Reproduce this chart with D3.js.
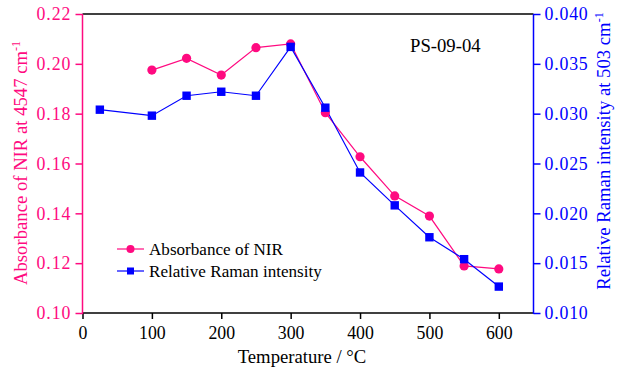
<!DOCTYPE html>
<html><head><meta charset="utf-8">
<script src="https://cdn.jsdelivr.net/npm/d3@7"></script>
<style>
body{margin:0;background:#fff;}
svg{display:block;}
svg text{font-family:"Liberation Serif","Times New Roman",serif !important;}
</style></head>
<body>
<svg id="c" width="627" height="374"></svg>
<script>
const nirTemps = [100,150,200,250,300,350,400,450,500,550,600];
const nirValues = [0.1975,0.2022,0.1955,0.2065,0.2080,0.1804,0.1627,0.1470,0.1389,0.1189,0.1177];
const ramanTemps = [25,100,150,200,250,300,350,400,450,500,550,600];
const ramanValues = [0.0304,0.0298,0.0318,0.0322,0.0318,0.0367,0.0306,0.0241,0.0208,0.0176,0.0154,0.01265];
const xTicks = [0,100,200,300,400,500,600];
const leftTicks = [0.10,0.12,0.14,0.16,0.18,0.20,0.22];
const rightTicks = [0.010,0.015,0.020,0.025,0.030,0.035,0.040];
const seriesNames = ["Absorbance of NIR","Relative Raman intensity"];
const pink = "#ff0a80", blue = "#0000ff";

const svg = d3.select("#c");
const L=82.5, R=533.5, T=14, B=313;
const x = d3.scaleLinear().domain([0,650]).range([L,R]);
const yL = d3.scaleLinear().domain([0.10,0.22]).range([B,T]);
const yR = d3.scaleLinear().domain([0.010,0.040]).range([B,T]);

svg.append("line").attr("x1",L).attr("x2",R).attr("y1",T).attr("y2",T).attr("stroke","#000").attr("stroke-width",1.5);

const gx = svg.append("g").attr("transform",`translate(0,${B})`);
gx.call(d3.axisBottom(x).tickValues(d3.range(50,651,100)).tickSize(3.5).tickFormat(""));
gx.call(d3.axisBottom(x).tickValues(xTicks).tickSize(6).tickFormat(d3.format("d")).tickPadding(7));
gx.selectAll(".domain").remove();
gx.append("line").attr("x1",L).attr("x2",R).attr("stroke","#000");
gx.selectAll("line").attr("stroke","#000").attr("stroke-width",1.5);
gx.attr("font-family",null);
gx.selectAll("text").attr("font-size",17.8).attr("fill","#000");

const gl = svg.append("g").attr("transform",`translate(${L},0)`);
gl.call(d3.axisLeft(yL).tickValues(d3.range(0.11,0.22,0.02)).tickSize(4.5).tickFormat(""));
gl.call(d3.axisLeft(yL).tickValues(leftTicks).tickSize(7).tickFormat(d3.format(".2f")).tickPadding(4));
gl.selectAll(".domain").remove();
gl.append("line").attr("y1",T).attr("y2",B+1);
gl.selectAll("line").attr("stroke",pink).attr("stroke-width",1.5);
gl.attr("font-family",null);
gl.selectAll("text").attr("font-size",17.8).attr("fill",pink).attr("letter-spacing","1px");

const gr = svg.append("g").attr("transform",`translate(${R},0)`);
gr.call(d3.axisRight(yR).tickValues(d3.range(0.0125,0.040,0.005)).tickSize(4.5).tickFormat(""));
gr.call(d3.axisRight(yR).tickValues(rightTicks).tickSize(7).tickFormat(d3.format(".3f")).tickPadding(4));
gr.selectAll(".domain").remove();
gr.append("line").attr("y1",T).attr("y2",B+1);
gr.selectAll("line").attr("stroke",blue).attr("stroke-width",1.5);
gr.attr("font-family",null);
gr.selectAll("text").attr("font-size",17.8).attr("fill",blue).attr("letter-spacing","0.8px");

const nir = nirTemps.map((t,i)=>[t,nirValues[i]]);
const ram = ramanTemps.map((t,i)=>[t,ramanValues[i]]);
svg.append("path").datum(nir).attr("fill","none").attr("stroke",pink).attr("stroke-width",1.2)
  .attr("d",d3.line().x(d=>x(d[0])).y(d=>yL(d[1])));
svg.append("path").datum(ram).attr("fill","none").attr("stroke",blue).attr("stroke-width",1.2)
  .attr("d",d3.line().x(d=>x(d[0])).y(d=>yR(d[1])));
svg.selectAll(".nc").data(nir).enter().append("circle")
  .attr("cx",d=>x(d[0])).attr("cy",d=>yL(d[1])).attr("r",4.6).attr("fill",pink);
svg.selectAll(".rs").data(ram).enter().append("rect")
  .attr("x",d=>x(d[0])-4.2).attr("y",d=>yR(d[1])-4.2).attr("width",8.4).attr("height",8.4).attr("fill",blue);

const lg = svg.append("g");
[[pink,"c"],[blue,"s"]].forEach((s,i)=>{
  const yy = 249 + i*22;
  lg.append("line").attr("x1",117).attr("x2",144).attr("y1",yy).attr("y2",yy).attr("stroke",s[0]).attr("stroke-width",1.2);
  if(s[1]==="c") lg.append("circle").attr("cx",130.5).attr("cy",yy).attr("r",4).attr("fill",s[0]);
  else lg.append("rect").attr("x",127).attr("y",yy-3.5).attr("width",7).attr("height",7).attr("fill",s[0]);
  lg.append("text").attr("x",149).attr("y",yy+5.5).attr("font-size",17.1).attr("fill","#000").text(seriesNames[i]);
});

svg.append("text").attr("x",410).attr("y",52).attr("font-size",18.7).attr("fill","#000").text("PS-09-04");

svg.append("text").attr("x",302).attr("y",363).attr("text-anchor","middle").attr("font-size",18.7).attr("fill","#000").text("Temperature / °C");
const lt = svg.append("text").attr("transform","translate(27,163) rotate(-90)").attr("text-anchor","middle").attr("font-size",18.7).attr("fill",pink);
lt.append("tspan").text("Absorbance of NIR at 4547 cm");
lt.append("tspan").attr("dy",-7.5).attr("font-size",12).text("-1");
const rt = svg.append("text").attr("transform","translate(610,151) rotate(-90)").attr("text-anchor","middle").attr("font-size",18.7).attr("fill",blue);
rt.append("tspan").text("Relative Raman intensity at 503 cm");
rt.append("tspan").attr("dy",-7.5).attr("font-size",12).text("-1");
</script>
</body></html>
